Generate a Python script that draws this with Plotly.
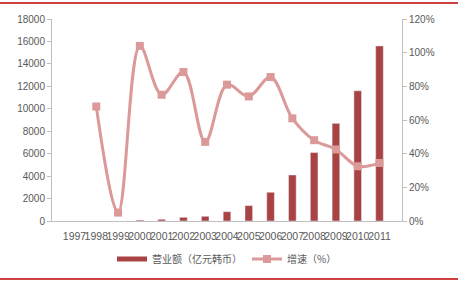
import plotly.graph_objects as go

years = [str(y) for y in range(1997, 2012)]
revenue = [None, None, None, 80, 150, 330, 420, 830, 1370, 2560, 4100, 6100, 8700, 11600, 15600]
growth = [None, 68, 5, 104, 75, 88.5, 47, 81, 74, 85.5, 61, 48, 42.5, 32.5, 34.5]

bar_name = "营业额（亿元韩币）"
line_name = "增速（%）"
bar_color = "#A94343"
line_color = "#DB9A99"

fig = go.Figure()
fig.add_trace(go.Bar(x=years, y=revenue, name=bar_name, marker_color=bar_color,
                     yaxis="y", showlegend=False))
# legend-only stand-in so the bar legend key is a wide flat bar as in the reference
fig.add_trace(go.Scatter(x=[None], y=[None], name=bar_name, mode="lines",
                         line=dict(color=bar_color, width=5), yaxis="y"))
fig.add_trace(go.Scatter(x=years, y=growth, name=line_name, yaxis="y2", mode="lines+markers",
                         line=dict(color=line_color, width=3, shape="spline", smoothing=1.0),
                         marker=dict(symbol="square", size=8, color=line_color),
                         connectgaps=False))

tickfont = dict(family="Liberation Sans, Arial", size=10, color="#595959")
xtickfont = dict(family="Liberation Sans, Arial", size=10.5, color="#595959")
fig.update_layout(
    width=470, height=281,
    margin=dict(l=52, r=68, t=19, b=60, autoexpand=False),
    paper_bgcolor="white", plot_bgcolor="white",
    bargap=0.65,
    showlegend=True,
    legend=dict(orientation="h", x=0.5, xanchor="center", y=-38/202, yanchor="middle",
                font=dict(family="Noto Sans CJK SC", size=10, color="#595959"),
                itemwidth=30, tracegroupgap=0, bgcolor="rgba(0,0,0,0)"),
    xaxis=dict(type="category", showline=True, linecolor="#BFBFBF", linewidth=1,
               ticks="", tickfont=xtickfont, showgrid=False, tickangle=0,
               ticklabelstandoff=5),
    yaxis=dict(range=[0, 18000], dtick=2000, tickformat="d", showline=True, linecolor="#BFBFBF",
               ticks="outside", ticklen=4, tickcolor="#BFBFBF", tickfont=tickfont,
               showgrid=False, zeroline=False),
    yaxis2=dict(range=[0, 120], dtick=20, ticksuffix="%", overlaying="y", side="right",
                showline=True, linecolor="#BFBFBF", ticks="outside", ticklen=4,
                tickcolor="#BFBFBF", tickfont=tickfont, showgrid=False, zeroline=False),
    shapes=[
        dict(type="line", xref="paper", yref="paper", x0=-52/350, x1=406/350,
             y0=1 + 16/202, y1=1 + 16/202, line=dict(color="#C00000", width=1.5)),
        dict(type="line", xref="paper", yref="paper", x0=-52/350, x1=406/350,
             y0=-58/202, y1=-58/202, line=dict(color="#C00000", width=1.5)),
    ],
)
fig.write_html("out.html")
